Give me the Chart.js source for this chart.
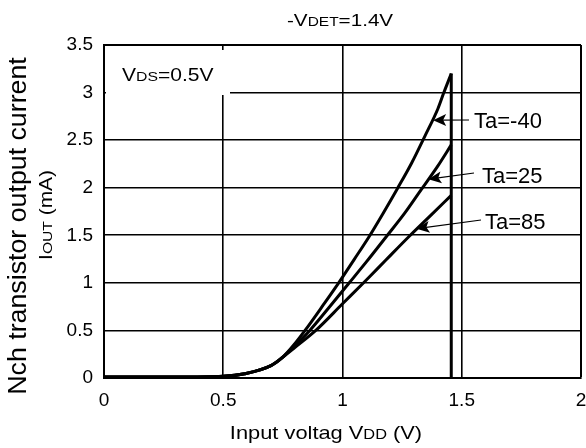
<!DOCTYPE html>
<html>
<head>
<meta charset="utf-8">
<script src="https://cdn.jsdelivr.net/npm/chart.js@4/dist/chart.umd.min.js"></script>
<style>
  html, body { margin: 0; padding: 0; background: #fff; }
</style>
</head>
<body>
<canvas id="c" width="586" height="448"></canvas>
<script>
// Ta=-40
const vddM40 = [0, 0.3, 0.5, 0.59, 0.7, 0.75, 0.8, 0.843, 0.92, 0.984, 1.05, 1.11, 1.17, 1.23, 1.29, 1.345, 1.4, 1.425, 1.456];
const ioutM40 = [0.01, 0.01, 0.018, 0.045, 0.13, 0.22, 0.36, 0.5, 0.77, 1.0, 1.25, 1.48, 1.73, 1.99, 2.26, 2.54, 2.83, 3.0, 3.2];
// Ta=25
const vdd25 = [0, 0.3, 0.5, 0.59, 0.7, 0.75, 0.8, 0.863, 0.94, 1.025, 1.1, 1.185, 1.26, 1.33, 1.4, 1.456];
const iout25 = [0.01, 0.01, 0.018, 0.045, 0.13, 0.22, 0.34, 0.5, 0.73, 0.99, 1.22, 1.49, 1.73, 1.98, 2.23, 2.45];
// Ta=85
const vdd85 = [0, 0.3, 0.5, 0.59, 0.7, 0.75, 0.8, 0.888, 1.0, 1.1, 1.182, 1.28, 1.37, 1.456];
const iout85 = [0.01, 0.01, 0.018, 0.045, 0.13, 0.22, 0.32, 0.5, 0.78, 1.03, 1.24, 1.49, 1.71, 1.92];
// detect voltage drop
const vddDrop = [1.456, 1.456];
const ioutDrop = [3.2, 0];

const xTicks = [0, 0.5, 1, 1.5, 2];
const yTicks = [0, 0.5, 1, 1.5, 2, 2.5, 3, 3.5];

const seriesLabels = ['Ta=-40', 'Ta=25', 'Ta=85'];

const pts = (xs, ys) => xs.map((x, i) => ({ x: x, y: ys[i] }));
const FONT = "'Liberation Sans', Arial, sans-serif";

// text with small subscripts, optionally stretched
function richText(ctx, parts, x, y, size, sx, align, rot) {
  ctx.save();
  ctx.translate(x, y);
  if (rot) ctx.rotate(rot);
  ctx.scale(sx, 1);
  let w = 0;
  parts.forEach(p => {
    ctx.font = (p[1] ? size * 0.75 : size) + 'px ' + FONT;
    w += ctx.measureText(p[0]).width;
  });
  let cx = align === 'center' ? -w / 2 : 0;
  ctx.fillStyle = '#000';
  ctx.textBaseline = 'alphabetic';
  ctx.textAlign = 'left';
  parts.forEach(p => {
    ctx.font = (p[1] ? size * 0.75 : size) + 'px ' + FONT;
    ctx.fillText(p[0], cx, 0);
    cx += ctx.measureText(p[0]).width;
  });
  ctx.restore();
}

const notes = {
  id: 'notes',
  beforeDatasetsDraw(chart) {
    const ctx = chart.ctx;
    ctx.save();
    ctx.fillStyle = '#fff';
    ctx.fillRect(106, 50, 124, 45);     // behind VDS label
    ctx.fillRect(478, 163, 83, 24);     // behind Ta=25
    ctx.restore();
    richText(ctx, [['V'], ['DS', 1], ['=0.5V']], 122, 81, 17.7, 1.19, 'left');
  },
  afterDatasetsDraw(chart) {
    const ctx = chart.ctx;
    const xs = chart.scales.x, ys = chart.scales.y;
    const arrows = [
      { tip: [1.38, 2.71], tail: [469, 120], text: [474, 128] },
      { tip: [1.36, 2.09], tail: [474, 173], text: [482, 183] },
      { tip: [1.31, 1.57], tail: [481, 220], text: [485, 229] }
    ];
    arrows.forEach((a, i) => {
      const tx = xs.getPixelForValue(a.tip[0]), ty = ys.getPixelForValue(a.tip[1]);
      const ang = Math.atan2(ty - a.tail[1], tx - a.tail[0]);
      ctx.save();
      ctx.strokeStyle = '#000';
      ctx.fillStyle = '#000';
      ctx.lineWidth = 1.2;
      ctx.beginPath();
      ctx.moveTo(a.tail[0], a.tail[1]);
      ctx.lineTo(tx - Math.cos(ang) * 8, ty - Math.sin(ang) * 8);
      ctx.stroke();
      ctx.translate(tx, ty);
      ctx.rotate(ang);
      ctx.beginPath();
      ctx.moveTo(0, 0);
      ctx.lineTo(-13, -6);
      ctx.lineTo(-10, 0);
      ctx.lineTo(-13, 6);
      ctx.closePath();
      ctx.fill();
      ctx.restore();
      richText(ctx, [[seriesLabels[i]]], a.text[0], a.text[1], 22, 1.0, 'left');
    });
  },
  afterDraw(chart) {
    const ctx = chart.ctx;
    richText(ctx, [['-V'], ['DET', 1], ['=1.4V']], 287, 26, 16.8, 1.23, 'left');
    richText(ctx, [['Input voltag V'], ['DD', 1], [' (V)']], 326, 439, 18.5, 1.18, 'center');
    richText(ctx, [['Nch transistor output current']], 26, 226, 25, 1.07, 'center', -Math.PI / 2);
    richText(ctx, [['I'], ['OUT', 1], [' (mA)']], 52, 215, 17.7, 1.18, 'center', -Math.PI / 2);
  }
};

const edge = (max) => (c) => (c.tick && c.tick.value === max ? 2 : 1.6);

new Chart(document.getElementById('c'), {
  type: 'scatter',
  data: {
    datasets: [
      { label: seriesLabels[0], data: pts(vddM40, ioutM40) },
      { label: seriesLabels[1], data: pts(vdd25, iout25) },
      { label: seriesLabels[2], data: pts(vdd85, iout85) },
      { label: 'drop', data: pts(vddDrop, ioutDrop), cubicInterpolationMode: 'default', tension: 0 }
    ].map(d => Object.assign({
      showLine: true,
      borderColor: '#000',
      borderWidth: 3,
      pointRadius: 0,
      cubicInterpolationMode: 'monotone',
      fill: false
    }, d))
  },
  options: {
    responsive: false,
    animation: false,
    devicePixelRatio: 1,
    layout: { padding: { top: 45, right: 5, left: 0, bottom: 0 } },
    plugins: {
      legend: { display: false },
      tooltip: { enabled: false }
    },
    scales: {
      x: {
        type: 'linear', min: 0, max: 2,
        afterFit: s => { s.height = 70; s.paddingLeft = 0; s.paddingRight = 0; },
        afterBuildTicks: s => { s.ticks = xTicks.map(v => ({ value: v })); },
        ticks: { color: '#000', font: { family: FONT, size: 19 }, padding: 11, maxRotation: 0, callback: v => String(v) },
        grid: { color: '#000', lineWidth: edge(2), drawTicks: false },
        border: { color: '#000', width: 2 }
      },
      y: {
        min: 0, max: 3.5,
        afterFit: s => { s.width = 104; s.paddingTop = 0; s.paddingBottom = 0; },
        afterBuildTicks: s => { s.ticks = yTicks.map(v => ({ value: v })); },
        ticks: { color: '#000', font: { family: FONT, size: 19 }, padding: 11, callback: v => String(v) },
        grid: { color: '#000', lineWidth: edge(3.5), drawTicks: false },
        border: { color: '#000', width: 2 }
      }
    }
  },
  plugins: [notes]
});
</script>
</body>
</html>
